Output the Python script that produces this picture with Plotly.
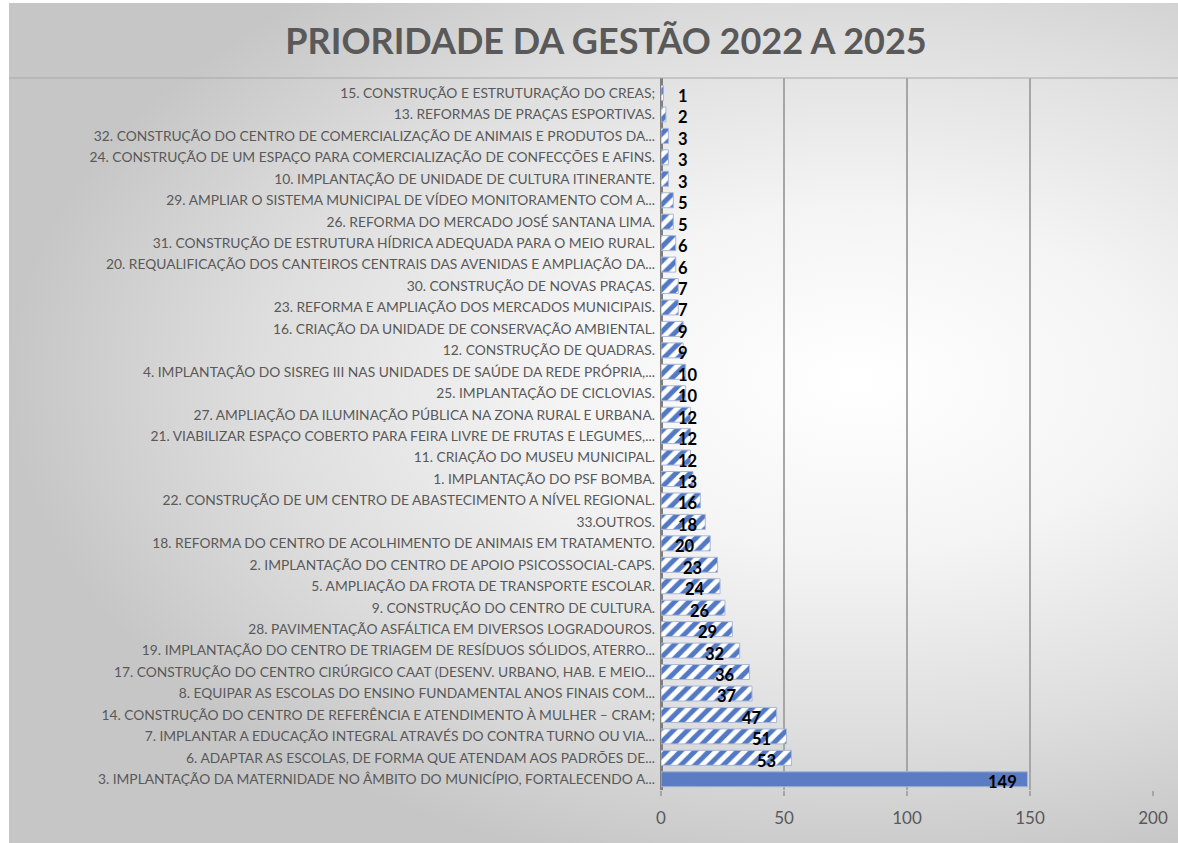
import plotly.graph_objects as go

categories = [
    "15. CONSTRUÇÃO E ESTRUTURAÇÃO DO CREAS;",
    "13. REFORMAS DE PRAÇAS ESPORTIVAS.",
    "32. CONSTRUÇÃO DO CENTRO DE COMERCIALIZAÇÃO DE ANIMAIS E PRODUTOS DA...",
    "24. CONSTRUÇÃO DE UM ESPAÇO PARA COMERCIALIZAÇÃO DE CONFECÇÕES E AFINS.",
    "10. IMPLANTAÇÃO DE UNIDADE DE CULTURA ITINERANTE.",
    "29. AMPLIAR O SISTEMA MUNICIPAL DE VÍDEO MONITORAMENTO COM A...",
    "26. REFORMA DO MERCADO JOSÉ SANTANA LIMA.",
    "31. CONSTRUÇÃO DE ESTRUTURA HÍDRICA ADEQUADA PARA O MEIO RURAL.",
    "20. REQUALIFICAÇÃO DOS CANTEIROS CENTRAIS DAS AVENIDAS E AMPLIAÇÃO DA...",
    "30. CONSTRUÇÃO DE NOVAS PRAÇAS.",
    "23. REFORMA E AMPLIAÇÃO DOS MERCADOS MUNICIPAIS.",
    "16. CRIAÇÃO DA UNIDADE DE CONSERVAÇÃO AMBIENTAL.",
    "12. CONSTRUÇÃO DE QUADRAS.",
    "4. IMPLANTAÇÃO DO SISREG III NAS UNIDADES DE SAÚDE DA REDE PRÓPRIA,...",
    "25. IMPLANTAÇÃO DE CICLOVIAS.",
    "27. AMPLIAÇÃO DA ILUMINAÇÃO PÚBLICA NA ZONA RURAL E URBANA.",
    "21. VIABILIZAR ESPAÇO COBERTO PARA FEIRA LIVRE DE FRUTAS E LEGUMES,...",
    "11. CRIAÇÃO DO MUSEU MUNICIPAL.",
    "1. IMPLANTAÇÃO DO PSF BOMBA.",
    "22. CONSTRUÇÃO DE UM CENTRO DE ABASTECIMENTO A NÍVEL REGIONAL.",
    "33.OUTROS.",
    "18. REFORMA DO CENTRO DE ACOLHIMENTO DE ANIMAIS EM TRATAMENTO.",
    "2. IMPLANTAÇÃO DO CENTRO DE APOIO PSICOSSOCIAL-CAPS.",
    "5. AMPLIAÇÃO DA FROTA DE TRANSPORTE ESCOLAR.",
    "9. CONSTRUÇÃO DO CENTRO DE CULTURA.",
    "28. PAVIMENTAÇÃO ASFÁLTICA EM DIVERSOS LOGRADOUROS.",
    "19. IMPLANTAÇÃO DO CENTRO DE TRIAGEM DE RESÍDUOS SÓLIDOS, ATERRO...",
    "17. CONSTRUÇÃO DO CENTRO CIRÚRGICO CAAT (DESENV. URBANO, HAB. E MEIO...",
    "8. EQUIPAR AS ESCOLAS DO ENSINO FUNDAMENTAL ANOS FINAIS COM...",
    "14. CONSTRUÇÃO DO CENTRO DE REFERÊNCIA E ATENDIMENTO À MULHER – CRAM;",
    "7. IMPLANTAR A EDUCAÇÃO INTEGRAL ATRAVÉS DO CONTRA TURNO OU VIA...",
    "6. ADAPTAR AS ESCOLAS, DE FORMA QUE ATENDAM AOS PADRÕES DE...",
    "3. IMPLANTAÇÃO DA MATERNIDADE NO ÂMBITO DO MUNICÍPIO, FORTALECENDO A...",
]
values = [1, 2, 3, 3, 3, 5, 5, 6, 6, 7, 7, 9, 9, 10, 10, 12, 12, 12, 13, 16,
          18, 20, 23, 24, 26, 29, 32, 36, 37, 47, 51, 53, 149]
x_ticks = [0, 50, 100, 150, 200]
title_text = "PRIORIDADE DA GESTÃO 2022 A 2025"

W, H = 1178, 843
GRAY_TXT = "#595959"
BLUE = "#5B7CC2"

fig = go.Figure()

# radial gradient background of the chart area
fig.add_trace(go.Scatter(
    x=[0, 1.45, 1.45, 0, 0], y=[-0.05, -0.05, 1.15, 1.15, -0.05],
    fill="toself", mode="none", hoverinfo="skip", showlegend=False,
    fillgradient=dict(type="radial",
                      colorscale=[[0, "#FFFFFF"], [0.35, "#F4F4F4"], [0.7, "#DEDEDE"], [1, "#C6C6C6"]]),
    xaxis="x", yaxis="y",
))

vmax = max(values)
pattern_shapes = ["" if v == vmax else "/" for v in values]

fig.add_trace(go.Bar(
    x=values, y=categories, orientation="h",
    xaxis="x2", yaxis="y2", showlegend=False,
    marker=dict(
        color=BLUE,
        line=dict(color="#A7B6D6", width=1),
        pattern=dict(shape=pattern_shapes, fillmode="replace", fgcolor="#5479C4",
                     bgcolor="white", fgopacity=1, size=10, solidity=0.5),
    ),
    hoverinfo="x+y",
))

annotations = []
for cat, v in zip(categories, values):
    if v >= 20:
        a = dict(x=v, xanchor="center", xshift=-25)
    else:
        a = dict(x=0, xanchor="left", xshift=15)
    a.update(y=cat, xref="x2", yref="y2", text=str(v), showarrow=False, yshift=-3,
             font=dict(family="Lato", size=16.5, color="black", weight="bold"))
    annotations.append(a)

fig.update_layout(
    width=W, height=H, autosize=False,
    margin=dict(l=0, r=0, t=0, b=0, pad=0, autoexpand=False),
    paper_bgcolor="white", plot_bgcolor="rgba(0,0,0,0)",
    bargap=0.3,
    title=dict(text=title_text, x=606 / W, xanchor="center", y=1 - 41 / H, yanchor="middle",
               font=dict(family="Lato", size=36, color=GRAY_TXT, weight="bold")),
    xaxis=dict(domain=[9 / W, 1], range=[0, 1], visible=False, fixedrange=True, automargin=False),
    yaxis=dict(domain=[0, 1 - 3 / H], range=[0, 1], visible=False, fixedrange=True, automargin=False),
    xaxis2=dict(domain=[661 / W, 1153 / W], range=[0, 200], anchor="y2", automargin=False,
                tickvals=x_ticks, showgrid=True, gridcolor="#A6A6A6", gridwidth=2,
                zeroline=True, zerolinecolor="#7F7F7F", zerolinewidth=3,
                ticks="outside", ticklen=5, tickcolor="#A6A6A6", tickwidth=2,
                ticklabelstandoff=8,
                tickfont=dict(family="Lato", size=17, color=GRAY_TXT), showline=False),
    yaxis2=dict(domain=[1 - 790 / H, 1 - 78 / H], anchor="x2", type="category", automargin=False,
                autorange="reversed", showgrid=False, ticks="", ticklabelstandoff=5,
                tickfont=dict(family="Lato", size=13.8, color=GRAY_TXT), showline=False),
    annotations=annotations,
    shapes=[dict(type="line", xref="paper", yref="paper", x0=9 / W, x1=1,
                 y0=1 - 78 / H, y1=1 - 78 / H, line=dict(color="#A8A8A8", width=1))],
)

fig.write_html("out.html", config={"displayModeBar": False},
               post_script="document.body.style.margin='0';")
